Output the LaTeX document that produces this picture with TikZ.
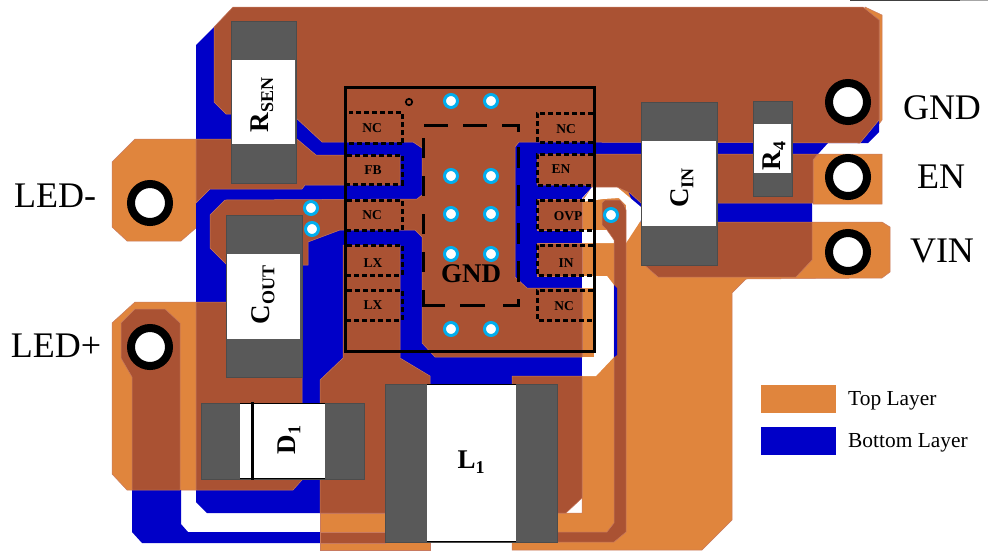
\documentclass[tikz,border=0pt]{standalone}
\usepackage{fontspec}
\setmainfont{Liberation Serif}
\definecolor{toplayer}{HTML}{E0853D}
\definecolor{overlap}{HTML}{AA5233}
\definecolor{botlayer}{HTML}{0000C8}
\definecolor{padgrey}{HTML}{595959}
\definecolor{viaring}{HTML}{00AEEF}
\definecolor{trimline}{HTML}{C87A60}
\tikzset{
  topcopper/.style={fill=toplayer,draw=trimline,line width=0.5pt},
  brown/.style={fill=overlap,draw=trimline,line width=0.5pt},
  botcopper/.style={fill=botlayer},
  gap/.style={fill=white},
  pinbox/.style={line width=3pt,dash pattern=on 5pt off 3pt},
  padline/.style={line width=3pt},
  hole/.style={draw=black,line width=8pt,fill=white},
  via/.style={draw=viaring,line width=3pt,fill=white},
  endcap/.style={fill=padgrey,draw=black!70,line width=0.6pt},
  body/.style={fill=white},
  pinlabel/.style={font=\fontsize{13.5}{13.5}\selectfont\bfseries,inner sep=0pt},
  partlabel/.style={font=\fontsize{27}{27}\selectfont\bfseries,inner sep=0pt},
  portlabel/.style={font=\fontsize{36}{36}\selectfont,inner sep=0pt},
  keylabel/.style={font=\fontsize{21.4}{21.4}\selectfont,inner sep=0pt,anchor=west}
}
\newcommand{\partsub}[2]{#1\raisebox{-0.18em}{\fontsize{18}{18}\selectfont #2}}
\begin{document}
\begin{tikzpicture}[x=1pt,y=-1pt]
\useasboundingbox (0,0) rectangle (988,550);
\fill [black!75] (850,0) rectangle (960,1.2);
\fill [black!35] (960,0) rectangle (988,1.2);

% top layer pads
\fill [topcopper] (135,139) -- (112,162) -- (112,227) -- (127,241) -- (181,241) -- (196,228) -- (196,139) -- cycle;
\fill [topcopper] (135,302) -- (112,323) -- (112,474) -- (127,490) -- (196,490) -- (196,302) -- cycle;
\fill [topcopper] (813,160) -- (818,154) -- (882,154) -- (882,204) -- (813,204) -- cycle;
\fill [topcopper] (865,7) -- (882,15) -- (882,120) -- (876,128) -- (860,100) -- cycle;
\fill [topcopper] (582,200) -- (592,187) -- (640,187) -- (640,222) -- (882,222) -- (890,227) -- (890,272) -- (882,278) -- (746,279) -- (732,293) -- (732,520) -- (702,550) -- (512,550) -- (512,513) -- (582,513) -- cycle;
\fill [topcopper] (320,513) -- (430,513) -- (430,550) -- (320,550) -- cycle;

% bottom layer
\fill [botcopper] (196,45) -- (233,8) -- (863,8) -- (879,20) -- (879,123) -- (879,132) -- (868,143) -- (828,143) -- (818,154) -- (592,154) -- (592,187) -- (582,198) -- (582,376) -- (512,376) -- (512,384) -- (320,384) -- (320,513) -- (207,513) -- (196,502) -- cycle;
\fill [botcopper] (132,490) -- (132,532) -- (142,543) -- (320,543) -- (320,532) -- (188,532) -- (181,524) -- (181,490) -- cycle;
\fill [botcopper] (628,191) -- (641,200) -- (812,203) -- (812,222) -- (641,222) -- cycle;

% gaps in the top layer
\fill [gap] (582,202) -- (592,187) -- (617,187) -- (641,207) -- (641,220) -- (626,243) -- (626,205) -- (619,198) -- (603,199) -- cycle;
\fill [gap] (582,230) -- (607,230) -- (614,238) -- (614,243) -- (582,243) -- cycle;
\fill [gap] (582,276) -- (607,276) -- (614,285) -- (614,357) -- (596,376) -- (582,376) -- (582,357) -- (594,357) -- (594,288) -- (582,288) -- cycle;

% overlap of both layers
\fill [brown] (214,27) -- (233,7) -- (863,7) -- (879,20) -- (879,120) -- (860,143) -- (519,142) -- (515,147) -- (515,277) -- (527,288) -- (582,288) -- (582,357) -- (435,357) -- (422,343) -- (422,237) -- (415,230) -- (340,230) -- (308,242) -- (308,265) -- (227,265) -- (210,248) -- (210,215) -- (225,200) -- (417,199) -- (422,195) -- (422,148) -- (413,142) -- (322,142) -- (295,117) -- (226,114) -- (214,102) -- cycle;
\fill [brown] (196,139) -- (297,139) -- (316,155) -- (400,155) -- (400,185) -- (305,185) -- (302,189) -- (210,189) -- (196,203) -- cycle;
\fill [brown] (135,309) -- (165,309) -- (180,323) -- (180,490) -- (132,490) -- (132,377) -- (121,358) -- (121,323) -- cycle;
\fill [brown] (196,302) -- (302,302) -- (302,480) -- (293,490) -- (196,490) -- cycle;
\fill [brown] (343,245) -- (400,245) -- (400,358) -- (430,376) -- (430,513) -- (320,513) -- (320,380) -- (343,358) -- cycle;
\fill [brown] (320,532) rectangle (385,543);
\fill [brown] (512,376) -- (582,376) -- (582,498) -- (566,513) -- (512,513) -- cycle;
\fill [brown] (537,154) -- (818,154) -- (813,160) -- (813,203) -- (641,203) -- (630,193) -- (617,187) -- (592,187) -- (584,185) -- (537,185) -- cycle;
\fill [brown] (537,199) rectangle (582,230);
\fill [brown] (537,243) rectangle (582,276);
\fill [brown] (641,222) -- (812,222) -- (812,260) -- (796,277) -- (658,277) -- (641,262) -- cycle;
\fill [brown] (602,203) -- (605,200) -- (620,200) -- (624,205) -- (626,210) -- (626,532) -- (614,542) -- (557,542) -- (557,532) -- (607,532) -- (614,523) -- (614,240) -- (607,230) -- (602,225) -- cycle;
\fill [botcopper] (614,285) -- (617,288) -- (617,355) -- (614,357) -- cycle;

% parts
\fill [endcap] (231,21) rectangle (296,183);
\fill [body] (232,60) rectangle (295,144);
\fill [endcap] (226,215) rectangle (302,377);
\fill [body] (227,254) rectangle (300,339);
\fill [endcap] (641,102) rectangle (717,265);
\fill [body] (642,141) rectangle (716,226);
\fill [endcap] (753,101) rectangle (792,196);
\fill [body] (754,124) rectangle (791,173);
\fill [endcap] (201,403) rectangle (364,479);
\fill [body] (240,404) rectangle (325,478);
\draw [line width=1pt] (240,403.5) -- (325,403.5);
\draw [line width=1pt] (240,478) -- (325,478);
\draw [line width=3pt] (252,402) -- (252,480);
\fill [endcap] (385,384) rectangle (557,542);
\fill [body] (427,385) rectangle (516,541);
\draw [line width=1pt] (427,384.5) -- (516,384.5);
\draw [line width=1pt] (427,541.5) -- (516,541.5);

% the chip
\draw [pinbox] (402,143) -- (402,112) -- (349,112);
\draw [pinbox] (349,143) -- (402,143);
\draw [pinbox] (347,155) -- (402,155) -- (402,184) -- (347,184);
\draw [pinbox] (347,200) -- (402,200) -- (402,230) -- (347,230);
\draw [pinbox] (347,245) -- (402,245) -- (402,275) -- (347,275);
\draw [pinbox] (347,290) -- (402,290) -- (402,320) -- (347,320);
\draw [pinbox] (593,113) -- (537,113) -- (537,142) -- (593,142);
\draw [pinbox] (593,154) -- (537,154) -- (537,185) -- (593,185);
\draw [pinbox] (593,200) -- (537,200) -- (537,230) -- (593,230);
\draw [pinbox] (593,245) -- (537,245) -- (537,275) -- (593,275);
\draw [pinbox] (593,290) -- (537,290) -- (537,320) -- (593,320);
\draw [line width=3pt] (345,87) rectangle (594,351);
\draw [padline,dash pattern=on 24pt off 15pt] (424,125) -- (518,125) -- (518,132);
\draw [padline,dash pattern=on 21pt off 17pt] (518,147) -- (518,305) -- (498,305);
\draw [padline,dash pattern=on 25pt off 15pt on 37pt off 100pt] (485,305) -- (423,305) -- (423,290);
\draw [padline,dash pattern=on 20pt off 18pt] (423,272) -- (423,137);
\draw [line width=1.7pt] (409,102) circle (3.2pt);

% vias
\foreach \viax/\viay in {451/101,491/101,451/176,491/176,451/214,491/214,451/254,491/254,451/329,491/329,611/215,311/208,312/229}
  \draw [via] (\viax,\viay) circle (6.5pt);

% mounting holes
\foreach \holex/\holey in {150/203,150/347,848/102,848/177,848/252}
  \draw [hole] (\holex,\holey) circle (19pt);

% legend
\fill [toplayer] (761,385) rectangle (836,413);
\fill [botlayer] (761,427) rectangle (836,455);
\node [keylabel] (keytop) at (848,401) {Top Layer};
\node [keylabel] (keybot) at (848,443) {Bottom Layer};

% labels
\node [portlabel] (ledminus) at (55,196) {LED-};
\node [portlabel] (ledplus) at (56,346) {LED+};
\node [portlabel] (portgnd) at (942,108) {GND};
\node [portlabel] (porten) at (941,177) {EN};
\node [portlabel] (portvin) at (942,251) {VIN};

\node [partlabel,rotate=90] (rsen) at (262,105) {\partsub{R}{SEN}};
\node [partlabel,rotate=90] (cout) at (263,295) {\partsub{C}{OUT}};
\node [partlabel,rotate=90] (cin) at (682,188) {\partsub{C}{IN}};
\node [partlabel,rotate=90] (rfour) at (774,156) {\partsub{R}{4}};
\node [partlabel,rotate=90] (done) at (289,440) {\partsub{D}{1}};
\node [partlabel] (lone) at (471,462) {\partsub{L}{1}};
\node [font=\fontsize{27}{27}\selectfont\bfseries,inner sep=0pt] (padgnd) at (471,274) {GND};

\node [pinlabel] (pinnca) at (372,128) {NC};
\node [pinlabel] (pinfb) at (373,170) {FB};
\node [pinlabel] (pinncb) at (372,215) {NC};
\node [pinlabel] (pinlxa) at (373,263) {LX};
\node [pinlabel] (pinlxb) at (373,305) {LX};
\node [pinlabel] (pinncc) at (566,129) {NC};
\node [pinlabel] (pinen) at (561,169) {EN};
\node [pinlabel] (pinovp) at (568,216) {OVP};
\node [pinlabel] (pinin) at (566,263) {IN};
\node [pinlabel] (pinncd) at (564,306) {NC};
\end{tikzpicture}
\end{document}
